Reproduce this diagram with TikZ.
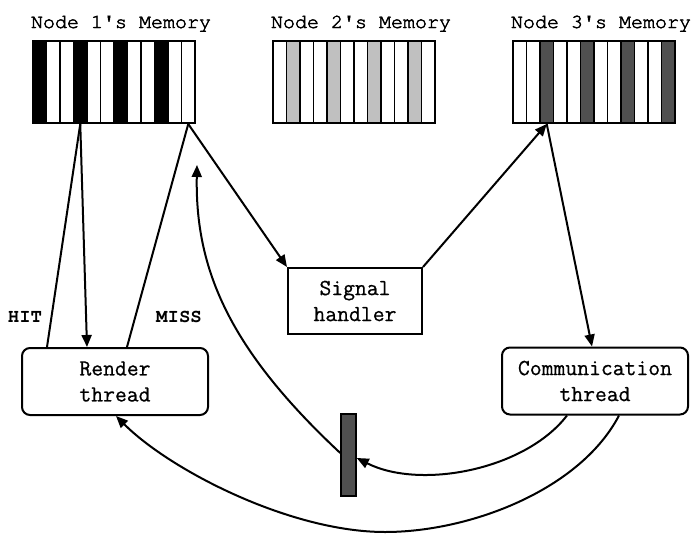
\documentclass[tikz,border=0pt]{standalone}
\usepackage{fontspec}
\usetikzlibrary{arrows.meta}
\definecolor{cellgray}{HTML}{C0C0C0}
\definecolor{celldark}{HTML}{505050}
\newcommand\courierfont{\fontencoding{T1}\fontfamily{pcr}\selectfont}
% slightly heavier glyphs: fill and stroke the outlines
\newcommand\heavytext[1]{\special{pdf:literal direct 2 Tr 0.45 w}#1\special{pdf:literal direct 0 Tr}}
\newcommand\firmtext[1]{\special{pdf:literal direct 2 Tr 0.15 w}#1\special{pdf:literal direct 0 Tr}}

\begin{document}
\begin{tikzpicture}[x=1pt,y=-1pt,
  line width=2pt,
  arr/.style={-{Triangle[length=12pt,width=10pt]}},
  cell/.style={draw, line width=1.5pt},
  membox/.style={draw, line width=2pt, minimum width=162pt, minimum height=82pt, inner sep=0pt},
  memtitle/.style={font=\fontsize{20}{24}\courierfont, anchor=base, inner sep=0pt},
  tag/.style={font=\fontsize{19}{22}\courierfont\bfseries, inner sep=0pt},
  boxtext/.style={align=center, inner sep=0pt, font=\ttfamily\fontsize{23}{26}\selectfont},
  thread/.style={boxtext, draw, rounded corners=8pt, minimum width=186pt, minimum height=67pt},
  handler/.style={boxtext, draw, minimum width=134pt, minimum height=66pt},
  buffer/.style={draw, line width=1.5pt, fill=celldark, minimum width=15pt, minimum height=82pt, inner sep=0pt}
]
\useasboundingbox (0,0) rectangle (691,533);

% memory cells
\foreach \c [count=\i from 0] in {black,white,white,black,white,white,black,white,white,black,white,white}
  \path[cell, fill=\c] (33+\i*13.5,41) rectangle ++(13.5,82);
\foreach \c [count=\i from 0] in {white,cellgray,white,white,cellgray,white,white,cellgray,white,white,cellgray,white}
  \path[cell, fill=\c] (273+\i*13.5,41) rectangle ++(13.5,82);
\foreach \c [count=\i from 0] in {white,white,celldark,white,white,celldark,white,white,celldark,white,white,celldark}
  \path[cell, fill=\c] (513+\i*13.5,41) rectangle ++(13.5,82);

\node[membox] (mem1) at (114,82) {};
\node[membox] (mem2) at (354,82) {};
\node[membox] (mem3) at (594,82) {};

\node[memtitle] (t1) at (121,28) {\heavytext{Node 1\textquotesingle s Memory}};
\node[memtitle] (t2) at (361,28) {\heavytext{Node 2\textquotesingle s Memory}};
\node[memtitle] (t3) at (601,28) {\heavytext{Node 3\textquotesingle s Memory}};

% cell bottoms used as connector ends
\coordinate (m1hit) at ([xshift=-33.75pt]mem1.south);
\coordinate (m1miss) at ([xshift=74.25pt]mem1.south);
\coordinate (m3cell) at ([xshift=-47.25pt]mem3.south);

% boxes
\node[thread] (render) at (115,381.5) {\firmtext{Render}\\\firmtext{thread}};
\node[handler] (signal) at (355,301) {\firmtext{Signal}\\\firmtext{handler}};
\node[thread] (comm) at (595,381) {\firmtext{Communication}\\\firmtext{thread}};
\node[buffer] (bar) at (348.5,455) {};

\node[tag] (hit) at (25,317) {HIT};
\node[tag] (miss) at (179,317) {MISS};

\coordinate (retip) at (197,165);

% render thread reads
\draw ([xshift=26pt]render.north west) -- (m1hit);
\draw[arr] (m1hit) -- ([xshift=66pt]render.north west);
\draw ([xshift=106pt]render.north west) -- (m1miss);

% miss handling
\draw[arr] (m1miss) -- (signal.north west);
\draw[arr] (signal.north east) -- (m3cell);
\draw[arr] (m3cell) -- ([xshift=91pt]comm.north west);

% communication thread outputs
\draw[arr] ([xshift=66pt]comm.south west) .. controls (525,470) and (420,490) .. ([yshift=-3pt]bar.east);
\draw[arr] ([yshift=2pt]bar.west) .. controls (230,350) and (195,270) .. (retip);
\draw[arr] ([xshift=118pt]comm.south west) .. controls (580,490) and (470,532) .. (385,532)
  .. controls (290,532) and (170,470) .. ([xshift=95pt]render.south west);
\end{tikzpicture}
\end{document}
